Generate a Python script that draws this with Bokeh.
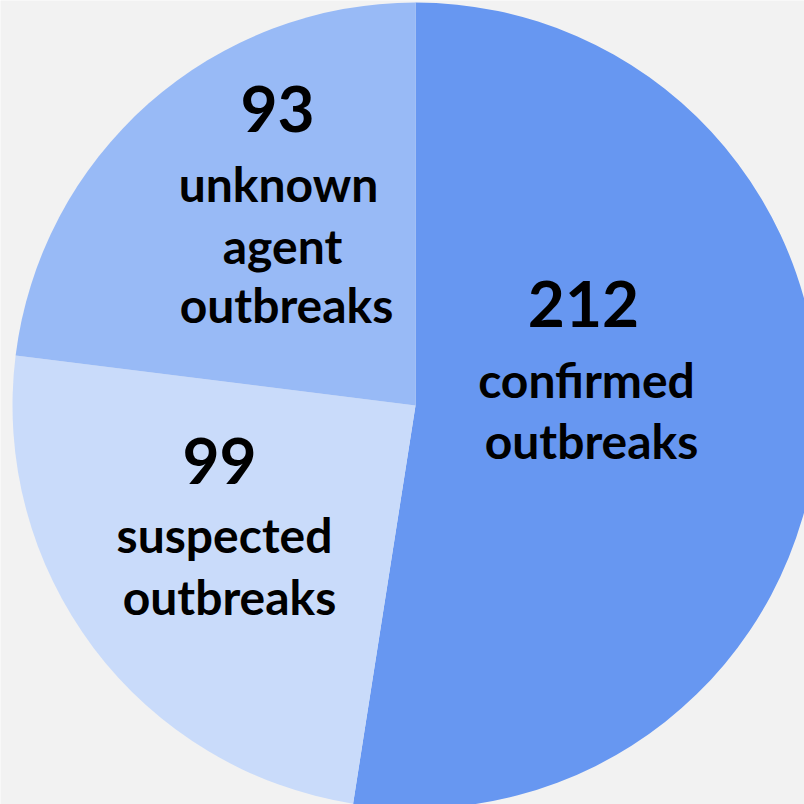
import math
from bokeh.plotting import figure
from bokeh.models import Range1d, ColumnDataSource
from bokeh.core.properties import value
from bokeh.embed import file_html
from bokeh.resources import INLINE

# ---- data ----
categories = ["confirmed", "suspected", "unknown agent"]
counts = [212, 99, 93]
label_lines = [["confirmed", "outbreaks"], ["suspected", "outbreaks"], ["unknown", "agent", "outbreaks"]]
colors = ["#6797f1", "#c9dbfa", "#98baf6"]

# ---- layout (pixels, y measured from top) ----
W = H = 804
cx, cy, R = 415, 405, 403
NUM_SIZE, TXT_SIZE = 64, 48
BASE_FIX = 0.39   # renderer's alphabetic baseline correction (fraction of font size)
# (x, baseline) of the number, then of each text line
num_pos = [(583, 328), (219, 485), (277, 133)]
line_pos = [[(586, 398), (591, 459)],
            [(224, 553), (229, 615)],
            [(278, 202), (282, 264), (286, 323)]]

p = figure(width=W, height=H, x_range=Range1d(0, W), y_range=Range1d(0, H),
           output_backend="svg", toolbar_location=None, min_border=0)
p.axis.visible = False
p.grid.visible = False
p.outline_line_color = None
p.background_fill_color = "#f2f2f2"
p.border_fill_color = "#f2f2f2"

total = sum(counts)
starts, ends = [], []
cum = 0
for c in counts:
    starts.append(math.pi / 2 - 2 * math.pi * cum / total)
    cum += c
    ends.append(math.pi / 2 - 2 * math.pi * cum / total)

src = ColumnDataSource(dict(x=[cx] * 3, y=[H - cy] * 3, start=starts, end=ends, color=colors))
p.wedge(x="x", y="y", radius=R, start_angle="start", end_angle="end", direction="clock",
        fill_color="color", line_color=None, source=src)

font = value("Lato")
nx, ny, nt = [], [], []
tx, ty, tt = [], [], []
for i in range(len(counts)):
    ax, ay = num_pos[i]
    nx.append(ax); ny.append(H - (ay - BASE_FIX * NUM_SIZE)); nt.append(str(counts[i]))
    for (lx, ly), line in zip(line_pos[i], label_lines[i]):
        tx.append(lx)
        ty.append(H - (ly - BASE_FIX * TXT_SIZE))
        tt.append(line)

p.text(x=nx, y=ny, text=nt, text_font=font, text_font_style="bold", text_font_size=f"{NUM_SIZE}px",
       text_align="center", text_baseline="alphabetic", text_color="#000000")
p.text(x=tx, y=ty, text=tt, text_font=font, text_font_style="bold", text_font_size=f"{TXT_SIZE}px",
       text_align="center", text_baseline="alphabetic", text_color="#000000")

open("out.html", "w").write(file_html(p, INLINE))
